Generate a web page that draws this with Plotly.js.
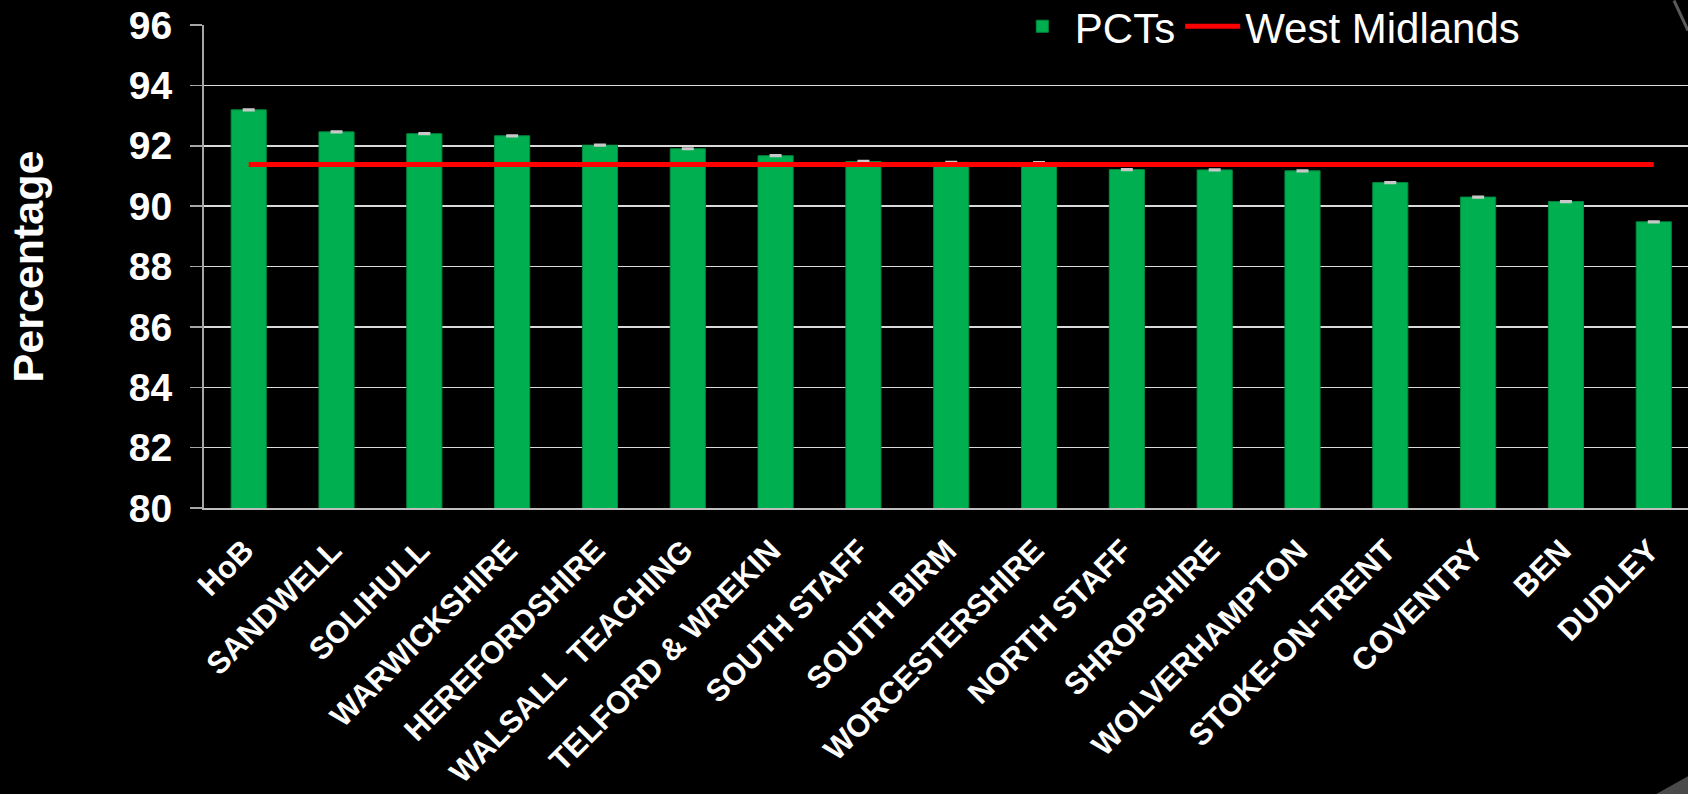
<!DOCTYPE html>
<html>
<head>
<meta charset="utf-8">
<script src="https://cdn.plot.ly/plotly-3.0.1.min.js"></script>
<style>html,body{margin:0;padding:0;background:#000;}#chart{width:1688px;height:794px;}</style>
</head>
<body>
<div id="chart"></div>
<script>
const categories = ["HoB","SANDWELL","SOLIHULL","WARWICKSHIRE","HEREFORDSHIRE","WALSALL  TEACHING","TELFORD & WREKIN","SOUTH STAFF","SOUTH BIRM","WORCESTERSHIRE","NORTH STAFF","SHROPSHIRE","WOLVERHAMPTON","STOKE-ON-TRENT","COVENTRY","BEN","DUDLEY"];
const pctValues = [93.19, 92.46, 92.40, 92.33, 92.02, 91.90, 91.67, 91.48, 91.45, 91.44, 91.21, 91.20, 91.17, 90.78, 90.30, 90.15, 89.48];
const pctErrors = [0.02, 0.02, 0.02, 0.02, 0.02, 0.02, 0.02, 0.02, 0.02, 0.02, 0.02, 0.02, 0.02, 0.02, 0.02, 0.02, 0.02];
const westMidlands = [91.38, 91.38, 91.38, 91.38, 91.38, 91.38, 91.38, 91.38, 91.38, 91.38, 91.38, 91.38, 91.38, 91.38, 91.38, 91.38, 91.38];
const yTicks = [80, 82, 84, 86, 88, 90, 92, 94, 96];

const FONT = "Arial, 'Liberation Sans', sans-serif";

const traces = [
  {
    type: "bar",
    name: "PCTs",
    x: categories,
    y: pctValues,
    width: 0.4,
    marker: { color: "#00B050", line: { color: "#008A3E", width: 1 } },
    error_y: { type: "data", array: pctErrors, visible: true, color: "#C8C8C8", thickness: 2, width: 6 },
    hoverinfo: "x+y"
  },
  {
    type: "scatter",
    mode: "lines",
    name: "West Midlands",
    x: categories,
    y: westMidlands,
    line: { color: "#FF0000", width: 5 },
    hoverinfo: "x+y"
  }
];

// slide-corner decoration (paper coordinates of a 1484 x 483.2 plot area at left 204, top 24.5)
function px2x(p) { return (p - 204) / 1484; }
function py2y(p) { return (507.7 - p) / 483.2; }

const layout = {
  width: 1688,
  height: 794,
  paper_bgcolor: "#000000",
  plot_bgcolor: "#000000",
  margin: { l: 204, r: 0, t: 24.5, b: 286.3, pad: 0, autoexpand: false },
  font: { family: FONT, color: "#FFFFFF" },
  showlegend: true,
  legend: {
    orientation: "h",
    x: 0.543, xanchor: "left",
    y: 0.997, yanchor: "middle",
    bgcolor: "rgba(0,0,0,0)",
    font: { family: FONT, size: 42, color: "#FFFFFF" },
    itemwidth: 55,
    traceorder: "normal"
  },
  shapes: [
    {
      type: "path", xref: "paper", yref: "paper", layer: "below",
      path: "M " + px2x(1656) + " " + py2y(794) + " L " + px2x(1688) + " " + py2y(794) + " L " + px2x(1688) + " " + py2y(776) + " Z",
      fillcolor: "#4A4A4A", line: { width: 0 }
    },
    {
      type: "line", xref: "paper", yref: "paper", layer: "below",
      x0: px2x(1674), y0: py2y(0), x1: px2x(1688), y1: py2y(30),
      line: { color: "#5A5A5A", width: 3 }
    }
  ],
  xaxis: {
    type: "category",
    range: [-0.509, 16.39],
    showline: true,
    linecolor: "#BFBFBF",
    linewidth: 2,
    showgrid: false,
    ticks: "",
    tickangle: -45,
    ticklabelstandoff: 10,
    ticklabelshift: -4,
    tickfont: { family: FONT, size: 31, color: "#FFFFFF", weight: "bold" },
    zeroline: false
  },
  yaxis: {
    range: [80, 96],
    tickvals: yTicks,
    ticktext: yTicks.map(String),
    showline: true,
    linecolor: "#A6A6A6",
    linewidth: 2,
    showgrid: true,
    gridcolor: "#D9D9D9",
    gridwidth: 1.5,
    ticks: "outside",
    ticklen: 12,
    tickwidth: 1.5,
    tickcolor: "#A6A6A6",
    ticklabelstandoff: 10,
    tickfont: { family: FONT, size: 39, color: "#FFFFFF", weight: "bold" },
    zeroline: false,
    title: { text: "Percentage", font: { family: FONT, size: 43, color: "#FFFFFF", weight: "bold" }, standoff: 72 }
  }
};

Plotly.newPlot("chart", traces, layout, { displayModeBar: false, staticPlot: true });
</script>
</body>
</html>
